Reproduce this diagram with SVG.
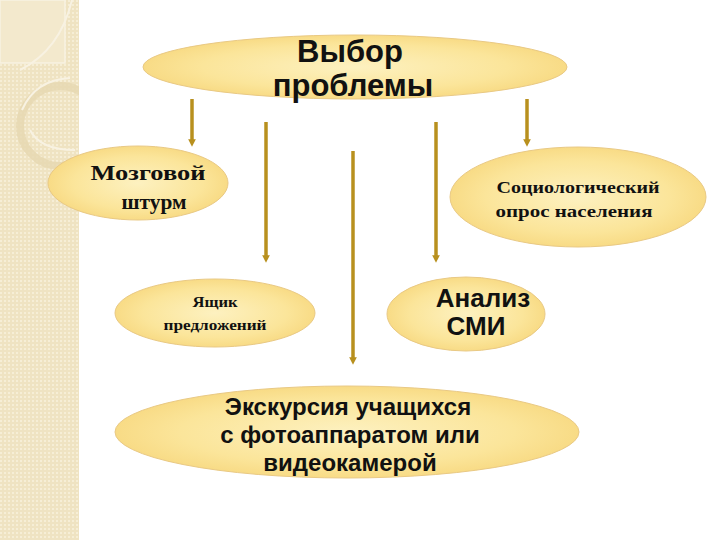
<svg xmlns="http://www.w3.org/2000/svg" width="720" height="540" viewBox="0 0 720 540">
<defs>
<radialGradient id="g" cx="50%" cy="50%" r="60%">
<stop offset="0" stop-color="#fdf1c0"/>
<stop offset="0.6" stop-color="#fbe59a"/>
<stop offset="1" stop-color="#f6d477"/>
</radialGradient>
<pattern id="pat" width="4" height="4" patternUnits="userSpaceOnUse">
<rect width="4" height="4" fill="#efe3c2"/>
<rect width="2" height="2" fill="#f6eed6"/>
</pattern>
<clipPath id="strip"><rect x="0" y="0" width="79" height="540"/></clipPath>
<marker id="ah" viewBox="0 0 6 6" refX="3" refY="3" markerWidth="2.2" markerHeight="2.2" orient="auto">
<path d="M0,0 L6,3 L0,6 z" fill="#b8901e"/>
</marker>
<style>
.el{fill:url(#g);stroke:#e9c984;stroke-width:1}
.sans{font-family:"Liberation Sans",Arial,sans-serif;font-weight:bold;fill:#111;text-anchor:middle}
.serif{font-family:"Liberation Serif","Times New Roman",serif;font-weight:bold;fill:#111;text-anchor:middle}
.ar{stroke:#b8901e;stroke-width:3.5;fill:none;marker-end:url(#ah)}
</style>
</defs>
<rect width="720" height="540" fill="#ffffff"/>
<g id="background" clip-path="url(#strip)">
<rect x="0" y="0" width="79" height="540" fill="url(#pat)"/>
<rect x="0" y="0" width="65" height="63" fill="#f3e9cd" stroke="#f8f2e2" stroke-width="1.5"/>
<path d="M72,0 Q60,50 20,70" fill="none" stroke="#f8f2e2" stroke-width="2"/>
<circle cx="60" cy="126" r="40" fill="none" stroke="#e6d7b0" stroke-width="8" opacity="0.8"/>
<path d="M22,110 Q35,80 70,78" fill="none" stroke="#f8f2e2" stroke-width="2"/>
<path d="M30,130 Q40,150 75,150" fill="none" stroke="#f8f2e2" stroke-width="2"/>
</g>
<g id="connectors">
<line class="ar" x1="192" y1="99" x2="192" y2="143"/>
<line class="ar" x1="266" y1="122" x2="266" y2="259"/>
<line class="ar" x1="353" y1="151" x2="353" y2="361"/>
<line class="ar" x1="436" y1="122" x2="436" y2="259"/>
<line class="ar" x1="527" y1="99" x2="527" y2="143"/>
</g>
<g id="n-top">
<ellipse class="el" cx="355" cy="67" rx="212" ry="32"/>
<text class="sans" x="350" y="62" font-size="31">Выбор</text>
<text class="sans" x="353" y="96" font-size="31">проблемы</text>
</g>
<g id="n-brain">
<ellipse class="el" cx="138" cy="183" rx="90" ry="37"/>
<text class="serif" x="148" y="180" font-size="22" textLength="115" lengthAdjust="spacingAndGlyphs">Мозговой</text>
<text class="serif" x="154" y="209" font-size="22" textLength="65" lengthAdjust="spacingAndGlyphs">штурм</text>
</g>
<g id="n-socio">
<ellipse class="el" cx="578" cy="197" rx="128" ry="50"/>
<text class="serif" x="578" y="193" font-size="17" textLength="163" lengthAdjust="spacingAndGlyphs">Социологический</text>
<text class="serif" x="574" y="217" font-size="17" textLength="157" lengthAdjust="spacingAndGlyphs">опрос населения</text>
</g>
<g id="n-box">
<ellipse class="el" cx="215" cy="313" rx="100" ry="34"/>
<text class="serif" x="215" y="307" font-size="15" textLength="45" lengthAdjust="spacingAndGlyphs">Ящик</text>
<text class="serif" x="215" y="330" font-size="15" textLength="103" lengthAdjust="spacingAndGlyphs">предложений</text>
</g>
<g id="n-smi">
<ellipse class="el" cx="466" cy="314" rx="79" ry="37"/>
<text class="sans" x="483" y="307" font-size="26">Анализ</text>
<text class="sans" x="476" y="335" font-size="26">СМИ</text>
</g>
<g id="n-excursion">
<ellipse class="el" cx="347" cy="432" rx="232" ry="46"/>
<text class="sans" x="348" y="415" font-size="24">Экскурсия учащихся</text>
<text class="sans" x="350" y="443" font-size="24">с фотоаппаратом или</text>
<text class="sans" x="350" y="471" font-size="24">видеокамерой</text>
</g>
</svg>
